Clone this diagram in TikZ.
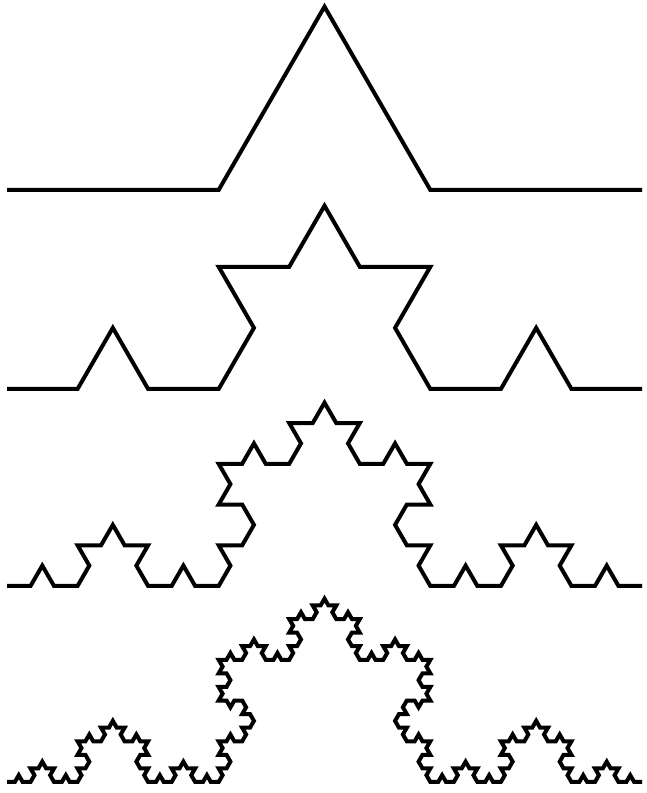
\documentclass[tikz,border=0pt]{standalone}
\tikzset{kochline/.style={draw=black,line width=4bp,line join=miter,line cap=butt}}
\def\kturn#1{\xdef\kdir{\the\numexpr\kdir+(#1)\relax}}
\def\kochgen#1{%
  \ifnum#1=0
    \xdef\kpath{\kpath -- ++(\kdir:\kstep bp)}%
  \else
    \expandafter\kochgen\expandafter{\the\numexpr#1-1\relax}%
    \kturn{60}%
    \expandafter\kochgen\expandafter{\the\numexpr#1-1\relax}%
    \kturn{-120}%
    \expandafter\kochgen\expandafter{\the\numexpr#1-1\relax}%
    \kturn{60}%
    \expandafter\kochgen\expandafter{\the\numexpr#1-1\relax}%
  \fi}
\def\kochcurve#1#2#3{% order, step, baseline y
  \gdef\kpath{}\gdef\kdir{0}\gdef\kstep{#2}%
  \kochgen{#1}%
  \edef\kcmd{\noexpand\draw[kochline] (7bp,#3bp) \kpath;}\kcmd}
\begin{document}
\begin{tikzpicture}[x=1bp,y=1bp]
\useasboundingbox (0,0) rectangle (647,793);
\kochcurve{1}{211.667}{603}
\kochcurve{2}{70.556}{404}
\kochcurve{3}{23.519}{207}
\kochcurve{4}{7.8395}{11}
\end{tikzpicture}
\end{document}
